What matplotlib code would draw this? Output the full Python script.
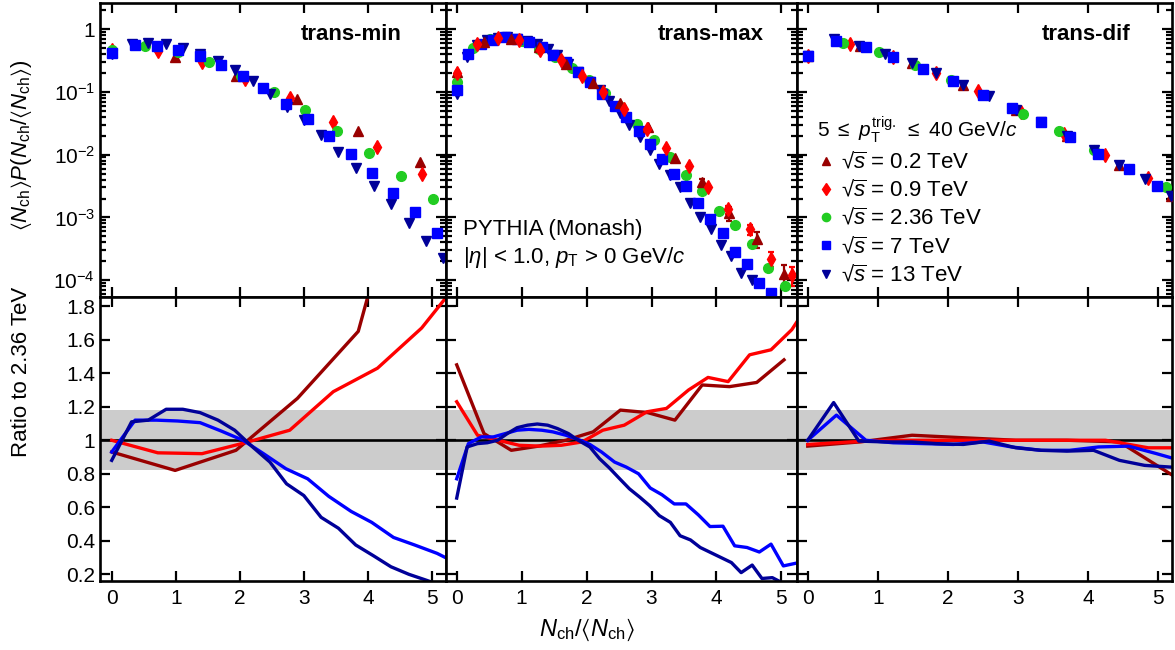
import matplotlib
matplotlib.use('Agg')
import matplotlib.pyplot as plt
from matplotlib.ticker import FixedLocator, FixedFormatter, LogLocator, NullFormatter, NullLocator
from matplotlib.lines import Line2D

plt.rcParams['font.family'] = ['Liberation Sans', 'DejaVu Sans']
plt.rcParams['mathtext.fontset'] = 'custom'
plt.rcParams['mathtext.rm'] = 'Liberation Sans'
plt.rcParams['mathtext.it'] = 'Liberation Sans:italic'
plt.rcParams['mathtext.bf'] = 'Liberation Sans:bold'
plt.rcParams['mathtext.fallback'] = 'stixsans'

# ---------------- data ----------------
energies = ['0.2', '0.9', '2.36', '7', '13']
panel_names = ['trans-min', 'trans-max', 'trans-dif']
x_ticks = [0, 1, 2, 3, 4, 5]
top_ticks = [1e-4, 1e-3, 1e-2, 1e-1, 1]
top_tick_labels = [r'$10^{-4}$', r'$10^{-3}$', r'$10^{-2}$', r'$10^{-1}$', '1']
ratio_ticks = [0.2, 0.4, 0.6, 0.8, 1.0, 1.2, 1.4, 1.6, 1.8]
ratio_tick_labels = ['0.2', '0.4', '0.6', '0.8', '1', '1.2', '1.4', '1.6', '1.8']
band_low, band_high = 0.82, 1.18

# trans-min distributions
tmin_x_02 = [0, 0.99, 1.94, 2.90, 3.85, 4.82]
tmin_y_02 = [0.43, 0.353, 0.18, 0.076, 0.0242, 0.0077]
tmin_x_09 = [0, 0.72, 1.41, 2.08, 2.78, 3.46, 4.15, 4.84]
tmin_y_09 = [0.47, 0.44, 0.294, 0.159, 0.079, 0.0336, 0.0134, 0.0049]
tmin_x_236 = [0, 0.52, 1.03, 1.52, 2.02, 2.53, 3.02, 3.52, 4.02, 4.52, 5.01]
tmin_y_236 = [0.468, 0.53, 0.43, 0.30, 0.18, 0.099, 0.0516, 0.0239, 0.0108, 0.00462, 0.00196]
tmin_x_7 = [0, 0.365, 0.70, 1.03, 1.38, 1.71, 2.05, 2.37, 2.72, 3.06, 3.39, 3.74, 4.06, 4.40, 4.73, 5.08]
tmin_y_7 = [0.414, 0.56, 0.54, 0.468, 0.366, 0.263, 0.18, 0.1145, 0.0644, 0.037, 0.0201, 0.0103,
            0.00516, 0.00248, 0.00123, 0.00057]
tmin_x_13 = [0, 0.31, 0.57, 0.85, 1.11, 1.38, 1.66, 1.92, 2.20, 2.47, 2.73, 3.00, 3.27, 3.54, 3.81,
             4.09, 4.36, 4.64, 4.91, 5.17]
tmin_y_13 = [0.40, 0.58, 0.60, 0.58, 0.50, 0.40, 0.305, 0.219, 0.150, 0.093, 0.058, 0.035, 0.0206,
             0.0112, 0.00605, 0.0032, 0.00163, 0.00082, 0.000425, 0.000227]

# trans-max distributions
tmax_x_02 = [0, 0.42, 0.84, 1.26, 1.68, 2.10, 2.52, 2.94, 3.36, 3.78, 4.20, 4.62, 5.04]
tmax_y_02 = [0.21, 0.62, 0.70, 0.52, 0.28, 0.138, 0.066, 0.028, 0.0089, 0.0037, 0.00119, 0.00045, 0.000125]
tmax_e_02 = [0, 0, 0, 0, 0, 0, 0, 0, 0, 0.0004, 0.0003, 0.00013, 0.00005]
tmax_x_09 = [0, 0.32, 0.64, 0.96, 1.29, 1.61, 1.93, 2.25, 2.58, 2.93, 3.23, 3.57, 3.87, 4.18, 4.51, 4.84, 5.16]
tmax_y_09 = [0.20, 0.57, 0.72, 0.68, 0.46, 0.32, 0.18, 0.10, 0.053, 0.0257, 0.0128, 0.0066, 0.0030,
             0.00134, 0.00065, 0.00022, 0.00012]
tmax_e_09 = [0, 0, 0, 0, 0, 0, 0, 0, 0, 0, 0, 0, 0, 0.0002, 0.00012, 0.00006, 0.00004]
tmax_x_236 = [0, 0.25, 0.51, 0.76, 1.01, 1.27, 1.52, 1.77, 2.03, 2.29, 2.53, 2.78, 3.04, 3.29, 3.53,
              3.78, 4.04, 4.29, 4.55, 4.79, 5.05]
tmax_y_236 = [0.141, 0.50, 0.69, 0.74, 0.635, 0.49, 0.36, 0.24, 0.152, 0.095, 0.057, 0.031, 0.0168,
              0.0092, 0.0048, 0.0026, 0.00126, 0.00075, 0.00038, 0.000158, 8.1e-5]
tmax_x_7 = [0, 0.18, 0.38, 0.565, 0.75, 0.93, 1.11, 1.31, 1.48, 1.68, 1.87, 2.05, 2.23, 2.43, 2.61,
            2.80, 2.98, 3.16, 3.35, 3.53, 3.72, 3.90, 4.10, 4.28, 4.47, 4.66, 4.84]
tmax_y_7 = [0.106, 0.40, 0.58, 0.68, 0.75, 0.69, 0.62, 0.51, 0.39, 0.295, 0.204, 0.142, 0.093, 0.060,
            0.040, 0.0235, 0.0145, 0.0085, 0.0050, 0.0032, 0.0017, 0.00093, 0.00056, 0.00028,
            0.000178, 9.1e-5, 6.2e-5]
tmax_x_13 = [0, 0.16, 0.32, 0.47, 0.63, 0.78, 0.93, 1.09, 1.24, 1.40, 1.55, 1.72, 1.87, 2.05, 2.20,
             2.35, 2.51, 2.66, 2.82, 2.97, 3.12, 3.29, 3.44, 3.60, 3.75, 3.91, 4.07, 4.23, 4.38, 4.55]
tmax_y_13 = [0.093, 0.36, 0.56, 0.66, 0.72, 0.74, 0.70, 0.64, 0.57, 0.48, 0.38, 0.28, 0.21, 0.142,
             0.106, 0.071, 0.046, 0.030, 0.019, 0.012, 0.0072, 0.0048, 0.0030, 0.0017, 0.00102,
             0.00065, 0.00036, 0.00024, 0.000132, 0.0001]

# trans-dif distributions
tdif_x_02 = [0, 0.74, 1.49, 2.22, 2.97, 3.70, 4.45, 5.18]
tdif_y_02 = [0.37, 0.54, 0.29, 0.127, 0.051, 0.020, 0.0069, 0.0022]
tdif_x_09 = [0, 0.605, 1.22, 1.83, 2.43, 3.04, 3.66, 4.25, 4.86]
tdif_y_09 = [0.37, 0.58, 0.36, 0.20, 0.102, 0.048, 0.0216, 0.010, 0.0043]
tdif_x_236 = [0, 0.51, 1.02, 1.53, 2.04, 2.55, 3.07, 3.58, 4.08, 4.58, 5.11]
tdif_y_236 = [0.37, 0.61, 0.43, 0.263, 0.156, 0.088, 0.045, 0.0235, 0.012, 0.0058, 0.0030]
tdif_x_7 = [0, 0.41, 0.83, 1.22, 1.65, 2.08, 2.50, 2.91, 3.33, 3.74, 4.15, 4.58, 4.98]
tdif_y_7 = [0.37, 0.635, 0.51, 0.36, 0.234, 0.147, 0.090, 0.055, 0.033, 0.019, 0.0104, 0.0058, 0.0032]
tdif_x_13 = [0, 0.37, 0.73, 1.10, 1.49, 1.83, 2.22, 2.59, 2.97, 3.33, 3.70, 4.08, 4.45, 4.81, 5.18]
tdif_y_13 = [0.37, 0.69, 0.54, 0.40, 0.29, 0.20, 0.127, 0.085, 0.051, 0.033, 0.020, 0.012, 0.0069,
             0.0041, 0.0022]

# ratios to 2.36 TeV
rmin_x_02 = [0, 0.99, 1.94, 2.90, 3.85, 4.82]
rmin_y_02 = [0.93, 0.82, 0.94, 1.25, 1.65, 3.0]
rmin_x_09 = [0, 0.72, 1.41, 2.08, 2.78, 3.46, 4.15, 4.84, 5.53]
rmin_y_09 = [1.0, 0.925, 0.92, 0.985, 1.06, 1.29, 1.43, 1.67, 2.0]
rmin_x_7 = [0, 0.365, 0.70, 1.03, 1.38, 1.71, 2.05, 2.37, 2.72, 3.06, 3.39, 3.74, 4.06, 4.40, 4.73, 5.08, 5.42]
rmin_y_7 = [0.93, 1.12, 1.12, 1.115, 1.105, 1.055, 1.0, 0.92, 0.83, 0.77, 0.665, 0.575, 0.51, 0.42,
            0.375, 0.325, 0.26]
rmin_x_13 = [0, 0.31, 0.57, 0.85, 1.11, 1.38, 1.66, 1.92, 2.20, 2.47, 2.73, 3.00, 3.27, 3.54, 3.81,
             4.09, 4.36, 4.64, 4.91, 5.17]
rmin_y_13 = [0.88, 1.11, 1.12, 1.185, 1.185, 1.165, 1.12, 1.06, 0.96, 0.87, 0.74, 0.67, 0.54, 0.475,
             0.375, 0.31, 0.245, 0.20, 0.165, 0.13]

rmax_x_02 = [0, 0.42, 0.84, 1.26, 1.68, 2.10, 2.52, 2.94, 3.36, 3.78, 4.20, 4.62, 5.04]
rmax_y_02 = [1.45, 1.04, 0.94, 0.965, 1.0, 1.05, 1.18, 1.165, 1.12, 1.33, 1.32, 1.345, 1.48]
rmax_x_09 = [0, 0.32, 0.64, 0.96, 1.29, 1.61, 1.93, 2.25, 2.58, 2.93, 3.23, 3.57, 3.87, 4.18, 4.51,
             4.84, 5.16, 5.48]
rmax_y_09 = [1.23, 1.03, 1.0, 0.97, 0.965, 0.97, 0.99, 1.06, 1.09, 1.17, 1.19, 1.30, 1.375, 1.35,
             1.51, 1.54, 1.66, 1.85]
rmax_x_7 = [0, 0.18, 0.38, 0.565, 0.75, 0.93, 1.11, 1.31, 1.48, 1.68, 1.87, 2.05, 2.23, 2.43, 2.61,
            2.80, 2.98, 3.16, 3.35, 3.53, 3.72, 3.90, 4.10, 4.28, 4.47, 4.66, 4.84, 5.03, 5.21]
rmax_y_7 = [0.77, 0.98, 1.02, 1.02, 1.04, 1.06, 1.065, 1.06, 1.05, 1.03, 1.005, 0.975, 0.93, 0.87,
            0.84, 0.80, 0.715, 0.675, 0.62, 0.62, 0.555, 0.485, 0.487, 0.37, 0.36, 0.333, 0.38,
            0.25, 0.265]
rmax_x_13 = [0, 0.16, 0.32, 0.47, 0.63, 0.78, 0.93, 1.09, 1.24, 1.40, 1.55, 1.72, 1.87, 2.05, 2.20,
             2.35, 2.51, 2.66, 2.82, 2.97, 3.12, 3.29, 3.44, 3.60, 3.75, 3.91, 4.07, 4.23, 4.38,
             4.55, 4.70, 4.86, 5.01]
rmax_y_13 = [0.655, 0.96, 0.98, 0.985, 1.0, 1.04, 1.075, 1.09, 1.097, 1.09, 1.07, 1.04, 1.0, 0.96,
             0.89, 0.835, 0.77, 0.71, 0.66, 0.61, 0.55, 0.51, 0.43, 0.405, 0.36, 0.33, 0.30, 0.27,
             0.21, 0.255, 0.175, 0.18, 0.15]

rdif_x_02 = [0, 0.74, 1.49, 2.22, 2.97, 3.70, 4.45, 5.25]
rdif_y_02 = [0.965, 0.99, 1.03, 1.015, 1.0, 1.0, 0.99, 0.78]
rdif_x_09 = [0, 0.605, 1.22, 1.83, 2.43, 3.04, 3.66, 4.25, 4.86, 5.47]
rdif_y_09 = [0.975, 0.99, 1.0, 1.0, 1.0, 1.0, 1.0, 1.0, 0.955, 0.955]
rdif_x_7 = [0, 0.41, 0.83, 1.22, 1.65, 2.08, 2.50, 2.91, 3.33, 3.74, 4.15, 4.58, 4.98, 5.40]
rdif_y_7 = [1.0, 1.15, 1.0, 0.985, 0.98, 0.975, 0.99, 0.96, 0.94, 0.94, 0.96, 0.965, 0.92, 0.87]
rdif_x_13 = [0, 0.37, 0.73, 1.10, 1.49, 1.83, 2.22, 2.59, 2.97, 3.33, 3.70, 4.08, 4.45, 4.81, 5.18]
rdif_y_13 = [1.0, 1.225, 0.995, 0.99, 0.99, 0.98, 0.975, 0.995, 0.955, 0.94, 0.935, 0.94, 0.88,
             0.85, 0.84]

# ---------------- styles ----------------
colors = {'0.2': '#990000', '0.9': '#FF0000', '2.36': '#22CC22', '7': '#0000FF', '13': '#000099'}
markers = {'0.2': '^', '0.9': 'd', '2.36': 'o', '7': 's', '13': 'v'}
msize = {'0.2': 7.5, '0.9': 7.5, '2.36': 7.0, '7': 7.0, '13': 7.5}
draw_order = ['0.2', '0.9', '2.36', '13', '7']
ratio_order = ['0.2', '0.9', '7', '13']

top_data = [
    {'0.2': (tmin_x_02, tmin_y_02, None), '0.9': (tmin_x_09, tmin_y_09, None),
     '2.36': (tmin_x_236, tmin_y_236, None), '7': (tmin_x_7, tmin_y_7, None),
     '13': (tmin_x_13, tmin_y_13, None)},
    {'0.2': (tmax_x_02, tmax_y_02, tmax_e_02), '0.9': (tmax_x_09, tmax_y_09, tmax_e_09),
     '2.36': (tmax_x_236, tmax_y_236, None), '7': (tmax_x_7, tmax_y_7, None),
     '13': (tmax_x_13, tmax_y_13, None)},
    {'0.2': (tdif_x_02, tdif_y_02, None), '0.9': (tdif_x_09, tdif_y_09, None),
     '2.36': (tdif_x_236, tdif_y_236, None), '7': (tdif_x_7, tdif_y_7, None),
     '13': (tdif_x_13, tdif_y_13, None)},
]
ratio_data = [
    {'0.2': (rmin_x_02, rmin_y_02), '0.9': (rmin_x_09, rmin_y_09), '7': (rmin_x_7, rmin_y_7),
     '13': (rmin_x_13, rmin_y_13)},
    {'0.2': (rmax_x_02, rmax_y_02), '0.9': (rmax_x_09, rmax_y_09), '7': (rmax_x_7, rmax_y_7),
     '13': (rmax_x_13, rmax_y_13)},
    {'0.2': (rdif_x_02, rdif_y_02), '0.9': (rdif_x_09, rdif_y_09), '7': (rdif_x_7, rdif_y_7),
     '13': (rdif_x_13, rdif_y_13)},
]
xlims = [(-0.183, 5.22), (-0.165, 5.24), (-0.153, 5.20)]
name_right_px = [402, 764, 1131]

W, H = 1175, 650
fig = plt.figure(figsize=(W / 100, H / 100), dpi=100)
gs = fig.add_gridspec(2, 3, width_ratios=[346, 351, 375], height_ratios=[294, 284],
                      left=100 / W, right=1172 / W, top=1 - 3 / H, bottom=1 - 581 / H,
                      wspace=0, hspace=0)

FS = 15


def style_axis(ax):
    for s in ax.spines.values():
        s.set_linewidth(1.9)
    ax.tick_params(which='both', direction='in', top=True, right=True, width=1.6,
                   labelsize=FS, colors='black')
    ax.tick_params(which='major', length=7)
    ax.tick_params(which='minor', length=4)


top_axes = []
for c in range(3):
    axt = fig.add_subplot(gs[0, c])
    axb = fig.add_subplot(gs[1, c])
    top_axes.append(axt)
    # ---- top: distributions
    for e in draw_order:
        xs, ys, es = top_data[c][e]
        if es is not None:
            axt.errorbar(xs, ys, yerr=es, fmt=markers[e], color=colors[e], ms=msize[e],
                         mec=colors[e], elinewidth=1.6, capsize=2.5, capthick=1.6, zorder=3)
        else:
            axt.plot(xs, ys, linestyle='none', marker=markers[e], color=colors[e], ms=msize[e],
                     zorder=3)
    axt.set_yscale('log')
    axt.set_ylim(5.4e-5, 2.6)
    axt.set_xlim(*xlims[c])
    axt.xaxis.set_major_locator(FixedLocator(x_ticks))
    axt.xaxis.set_minor_locator(NullLocator())
    axt.yaxis.set_major_locator(FixedLocator(top_ticks))
    axt.yaxis.set_minor_locator(LogLocator(base=10, subs=[2, 3, 4, 5, 6, 7, 8, 9]))
    axt.yaxis.set_minor_formatter(NullFormatter())
    if c == 0:
        axt.yaxis.set_major_formatter(FixedFormatter(top_tick_labels))
    else:
        axt.tick_params(labelleft=False)
    axt.tick_params(labelbottom=False)
    style_axis(axt)
    fig.text(name_right_px[c] / W, 1 - 35 / H, panel_names[c], ha='right', va='center',
             fontsize=16, fontweight='bold')

    # ---- bottom: ratios
    axb.axhspan(band_low, band_high, color='#CCCCCC', lw=0, zorder=0)
    axb.axhline(1.0, color='black', lw=1.9, zorder=1)
    for e in ratio_order:
        xs, ys = ratio_data[c][e]
        axb.plot(xs, ys, color=colors[e], lw=2.4, zorder=2)
    axb.set_xlim(*xlims[c])
    axb.set_ylim(0.16, 1.855)
    axb.xaxis.set_major_locator(FixedLocator(x_ticks))
    axb.xaxis.set_major_formatter(FixedFormatter([str(t) for t in x_ticks]))
    axb.yaxis.set_major_locator(FixedLocator(ratio_ticks))
    if c == 0:
        axb.yaxis.set_major_formatter(FixedFormatter(ratio_tick_labels))
    else:
        axb.tick_params(labelleft=False)
    style_axis(axb)
    axb.tick_params(axis='x', pad=6)

# annotations
fig.text(463 / W, 1 - 229 / H, 'PYTHIA (Monash)', ha='left', va='center', fontsize=16)
fig.text(463 / W, 1 - 257 / H, r'|$\eta$| < 1.0, $p_{\rm T}$ > 0 GeV/$c$', ha='left',
         va='center', fontsize=16)

handles = [Line2D([], [], linestyle='none', marker=markers[e], color=colors[e],
                  ms=msize[e] * 0.85) for e in energies]
labels = ['\u221a' + r'$\overline{s}$ = ' + e + ' TeV' for e in energies]
leg = top_axes[2].legend(handles, labels, loc='upper left', bbox_to_anchor=(820 / W, 1 - 152 / H),
                         bbox_transform=fig.transFigure, frameon=False, fontsize=16, numpoints=1,
                         handlelength=0.55, handletextpad=0.4, labelspacing=0.3, borderpad=0,
                         borderaxespad=0)
leg.set_zorder(20)
fig.text(817 / W, 1 - 130 / H, r'5 $\leq$ $p_{\rm T}^{\rm trig.}$ $\leq$ 40 GeV/$c$',
         ha='left', va='center', fontsize=FS, zorder=20)

fig.text(587 / W, 1 - 630 / H, r'$N_{\rm ch}/\langle N_{\rm ch}\rangle$', ha='center',
         va='center', fontsize=17)
fig.text(22 / W, 1 - 145 / H, r'$\langle N_{\rm ch}\rangle P(N_{\rm ch}/\langle N_{\rm ch}\rangle)$',
         rotation=90, ha='center', va='center', fontsize=16)
fig.text(22 / W, 1 - 372 / H, 'Ratio to 2.36 TeV', rotation=90, ha='center', va='center',
         fontsize=16)

fig.savefig('out.png', dpi=100)
